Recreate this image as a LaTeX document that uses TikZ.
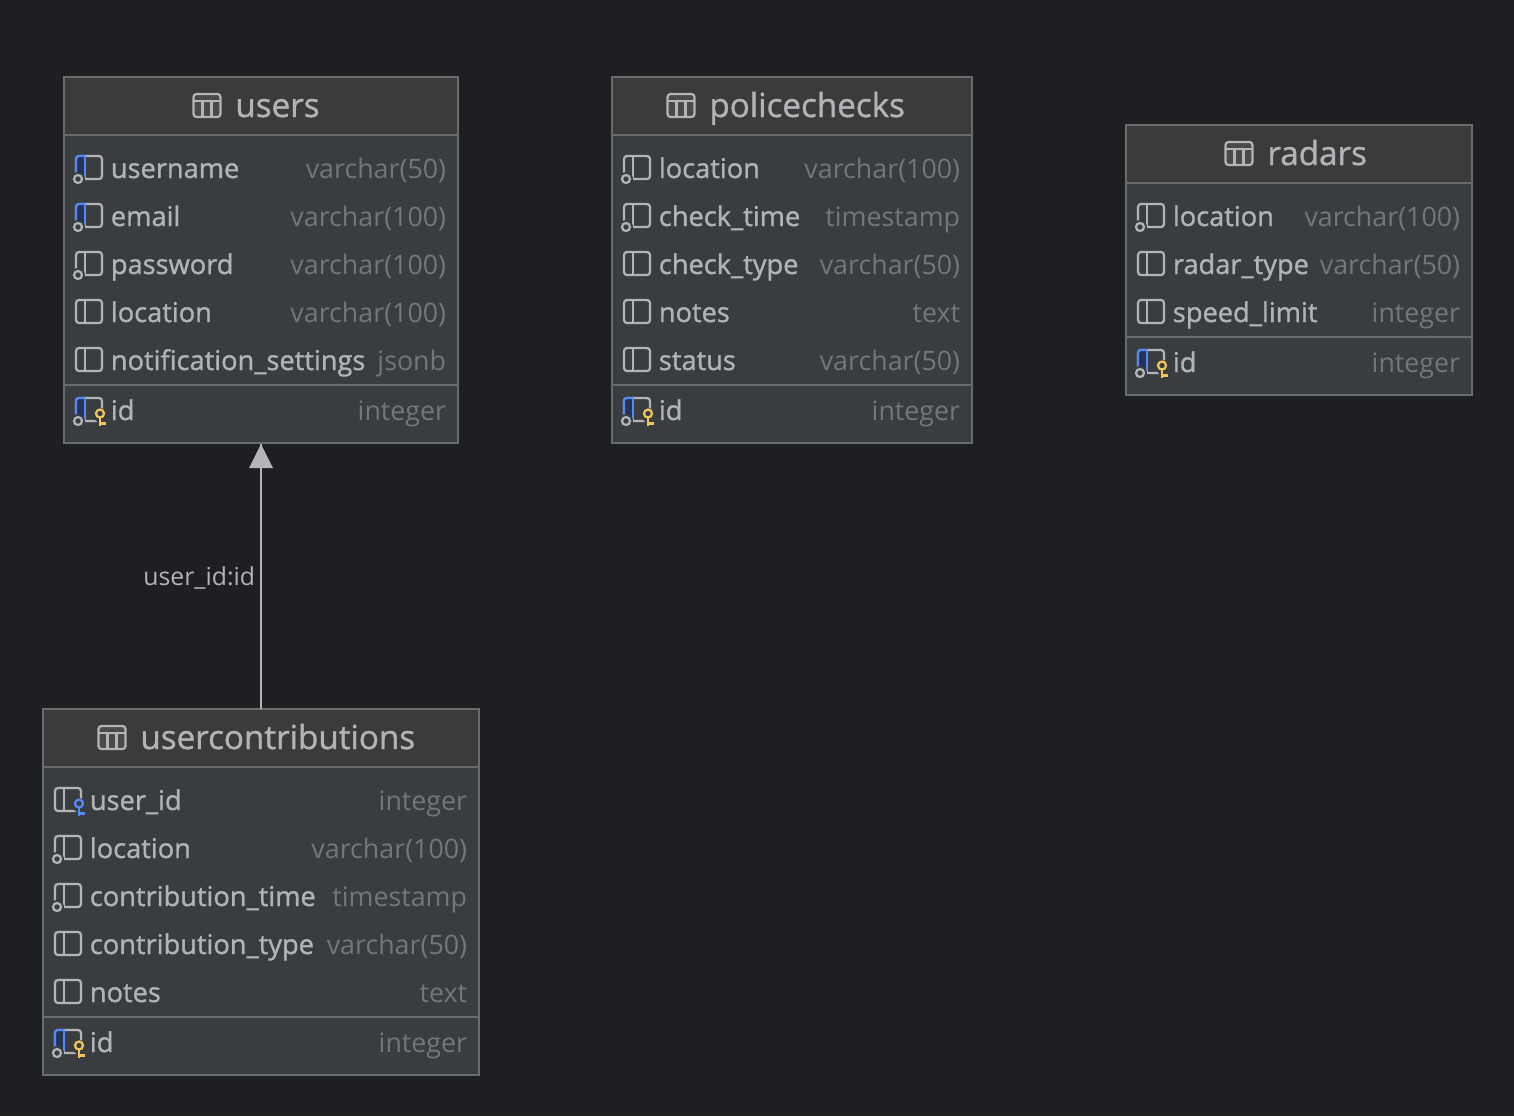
\documentclass[tikz,border=0pt]{standalone}
\usepackage{fontspec}
\setmainfont{Open Sans}
\newfontfamily\semifont[FakeBold=1.1]{Open Sans}
\definecolor{bgc}{HTML}{1E1F22}
\definecolor{headc}{HTML}{3B3B3B}
\definecolor{bodyc}{HTML}{3A3D40}
\definecolor{linec}{HTML}{6A6B6B}
\definecolor{namec}{HTML}{B2B3B7}
\definecolor{typec}{HTML}{74767A}
\definecolor{iconc}{HTML}{B4B5B9}
\definecolor{blueic}{HTML}{548AF7}
\definecolor{navyc}{HTML}{263352}
\definecolor{goldc}{HTML}{F2C55C}
\tikzset{
  x=0.5pt,y=-0.5pt,
  tablebox/.style={draw=linec,line width=0.75pt,fill=bodyc,anchor=north west,inner sep=0,outer sep=0},
  divline/.style={draw=linec,line width=1pt},
  titletext/.style={anchor=base west,inner sep=0,text=namec,font=\semifont\fontsize{16.6}{18}\selectfont},
  nametext/.style={anchor=base west,inner sep=0,text=namec,font=\semifont\fontsize{13.6}{16}\selectfont},
  typetext/.style={anchor=base east,inner sep=0,text=typec,font=\fontsize{13.4}{16}\selectfont},
  linktext/.style={anchor=base east,inner sep=0,text=namec,font=\fontsize{12.4}{14}\selectfont},
  iconline/.style={draw=iconc,line width=1.1pt,rounded corners=1.5pt},
  plainicon/.pic={
    \draw[iconline] (12,-13) rectangle (38,10);
    \draw[draw=iconc,line width=1.1pt] (21,-13) -- (21,10);
  },
  ringmark/.pic={
    \fill[bodyc] (14,10) circle (7);
    \draw[draw=iconc,line width=1.1pt] (14,10) circle (4);
  },
  bluepart/.pic={
    \fill[navyc] (12.5,-13) rectangle (21,8);
    \draw[draw=blueic,line width=1.1pt,rounded corners=1.5pt] (21,-13) -- (12,-13) -- (12,8);
    \draw[draw=blueic,line width=1.1pt] (21,-13) -- (21,8);
  },
  keymark/.pic={
    \fill[bodyc] (36,4) circle (7);
    \fill[bodyc] (33,8) rectangle (42,16);
    \draw[line width=1.1pt] (36,2.5) circle (4);
    \draw[line width=1.1pt] (36,7) -- (36,15) (36,12.5) -- (42,12.5);
  },
  nnicon/.pic={\pic {plainicon}; \pic {ringmark};},
  idxicon/.pic={\pic {plainicon}; \pic {bluepart}; \pic {ringmark};},
  pkicon/.pic={\pic {plainicon}; \pic {bluepart}; \pic {ringmark}; \pic[draw=goldc] {keymark};},
  fkicon/.pic={\pic {plainicon}; \pic[draw=blueic] {keymark};},
}
\newcommand{\dbtable}[7]{% name, left, top, right, bottom, title x offset, title
  \node[tablebox,minimum width=#4*0.5pt-#2*0.5pt,minimum height=#5*0.5pt-#3*0.5pt] (#1) at (#2,#3) {};
  \fill[headc] (#2+1,#3+1) rectangle (#4-1,#3+57);
  \draw[divline] (#2+1,#3+57.5) -- (#4-1,#3+57.5);
  \begin{scope}[shift={(#2+#6,#3+29)}]
    \draw[iconline,fill=headc!60!iconc!30!headc] (-13.5,-12) rectangle (13.5,11);
    \draw[draw=iconc,line width=1.1pt] (-13.5,-5) -- (13.5,-5) (-4.5,-5) -- (-4.5,11) (4.5,-5) -- (4.5,11);
  \end{scope}
  \node[titletext] (#1-title) at (#2+#6+28,#3+40) {#7};
}
\newcommand{\dbrow}[7]{% table, key, left, right, y, icon, name
  \pic at (#3,#5) {#6};
  \node[nametext] (#1-#2-name) at (#3+46.5,#5+9) {#7};
}
\newcommand{\dbtype}[5]{\node[typetext] (#1-#2-type) at (#3-11.5,#4+9) {#5};}
\begin{document}
\begin{tikzpicture}
\useasboundingbox (0,0) rectangle (1514,1116);
\fill[bgc] (0,0) rectangle (1514,1116);
% users
\dbtable{users}{64}{77}{458}{443}{143}{users}
\foreach \k/\y/\ic/\n/\t in {a/169/idxicon/username/varchar(50),b/217/idxicon/email/varchar(100),c/265/nnicon/password/varchar(100),d/313/plainicon/location/varchar(100),e/361/plainicon/notification\_settings/jsonb,f/411/pkicon/id/integer}{
  \dbrow{users}{\k}{64}{458}{\y}{\ic}{\n}
  \dbtype{users}{\k}{458}{\y}{\t}
}
\draw[divline] (65,385) -- (457,385);
% policechecks
\dbtable{police}{612}{77}{972}{443}{69}{policechecks}
\foreach \k/\y/\ic/\n/\t in {a/169/nnicon/location/varchar(100),b/217/nnicon/check\_time/timestamp,c/265/plainicon/check\_type/varchar(50),d/313/plainicon/notes/text,e/361/plainicon/status/varchar(50),f/411/pkicon/id/integer}{
  \dbrow{police}{\k}{612}{972}{\y}{\ic}{\n}
  \dbtype{police}{\k}{972}{\y}{\t}
}
\draw[divline] (613,385) -- (971,385);
% radars
\dbtable{radars}{1126}{125}{1472}{395}{113}{radars}
\foreach \k/\y/\ic/\n/\t in {a/217/nnicon/location/varchar(100),b/265/plainicon/radar\_type/varchar(50),c/313/plainicon/speed\_limit/integer,d/363/pkicon/id/integer}{
  \dbrow{radars}{\k}{1126}{1472}{\y}{\ic}{\n}
  \dbtype{radars}{\k}{1472}{\y}{\t}
}
\draw[divline] (1127,337) -- (1471,337);
% usercontributions
\dbtable{contrib}{43}{709}{479}{1075}{69}{usercontributions}
\foreach \k/\y/\ic/\n/\t in {a/801/fkicon/user\_id/integer,b/849/nnicon/location/varchar(100),c/897/nnicon/contribution\_time/timestamp,d/945/plainicon/contribution\_type/varchar(50),e/993/plainicon/notes/text,f/1043/pkicon/id/integer}{
  \dbrow{contrib}{\k}{43}{479}{\y}{\ic}{\n}
  \dbtype{contrib}{\k}{479}{\y}{\t}
}
\draw[divline] (44,1017) -- (478,1017);
% connector
\coordinate (tip) at ([yshift=-0.5pt]users.south);
\draw[draw=iconc,line width=1pt] (contrib.north) -- (tip);
\fill[iconc] (tip) -- ++(12,24) -- ++(-24,0) -- cycle;
\node[linktext] (lnk) at (255.5,585) {user\_id:id};
\end{tikzpicture}
\end{document}
